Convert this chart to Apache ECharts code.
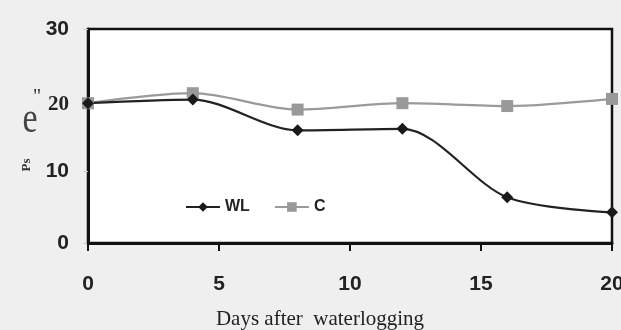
<!DOCTYPE html>
<html>
<head>
<meta charset="utf-8">
<script src="https://cdn.jsdelivr.net/npm/echarts@6/dist/echarts.min.js"></script>
<style>
html,body{margin:0;padding:0;background:#efefef;}
#chart{width:621px;height:330px;}
</style>
</head>
<body>
<div id="chart"></div>
<script>
// Days after waterlogging at which Ps was measured
const days = [0, 4, 8, 12, 16, 20];
// Waterlogged plants
const wlValues = [19.6, 20.1, 15.8, 16.0, 6.4, 4.3];
// Control plants
const cValues = [19.6, 21.0, 18.7, 19.6, 19.2, 20.2];
const xTicks = [0, 5, 10, 15, 20];
const yTicks = [0, 10, 20, 30];

const pairs = (xs, ys) => xs.map((x, i) => [x, ys[i]]);

const chart = echarts.init(document.getElementById('chart'), null, {renderer: 'canvas'});
chart.setOption({
  backgroundColor: '#efefef',
  animation: false,
  grid: {
    left: 88, right: 9, top: 29, bottom: 87,
    containLabel: false, outerBoundsMode: 'none',
    show: true, backgroundColor: '#ffffff',
    borderColor: '#111', borderWidth: 2.5
  },
  legend: {
    left: 180, top: 194,
    itemWidth: 34, itemHeight: 12, itemGap: 24,
    textStyle: {fontFamily: 'Liberation Sans Narrow, Liberation Sans', fontWeight: 'bold', fontSize: 16, color: '#222'},
    data: ['WL', 'C']
  },
  xAxis: {
    type: 'value', min: xTicks[0], max: xTicks[xTicks.length - 1], interval: 5,
    name: 'Days after  waterlogging', nameLocation: 'middle', nameGap: 66,
    nameTextStyle: {fontFamily: 'Liberation Serif', fontSize: 21, color: '#222', padding: [0, 60, 0, 0]},
    axisLine: {lineStyle: {color: '#111', width: 3}},
    axisTick: {show: true, inside: false, length: 8, lineStyle: {color: '#111', width: 2}},
    axisLabel: {margin: 31, fontFamily: 'Liberation Sans Narrow, Liberation Sans', fontWeight: 'bold', fontSize: 21, color: '#222'},
    splitLine: {show: false}
  },
  yAxis: {
    type: 'value', min: yTicks[0], max: yTicks[yTicks.length - 1], interval: 10,
    axisLine: {show: true, lineStyle: {color: '#111', width: 3}},
    axisTick: {show: true, inside: false, length: 5, lineStyle: {color: '#ccc', width: 1}},
    axisLabel: {
      margin: 19, fontFamily: 'Liberation Sans Narrow, Liberation Sans', fontWeight: 'bold', fontSize: 21, color: '#222',
      formatter: v => v === 20 ? '{s|' + v + '}' : String(v),
      rich: {s: {fontFamily: 'Liberation Serif', fontWeight: 'bold', fontSize: 21, color: '#222', padding: [8, 0, 0, 0]}}
    },
    splitLine: {show: false}
  },
  graphic: [
    {type: 'text', x: 27, y: 165, rotation: Math.PI / 2, style: {text: 'Ps', font: 'bold 13px "Liberation Serif"', fill: '#333', align: 'center', verticalAlign: 'middle'}},
    {type: 'text', x: 30, y: 120, style: {text: 'e', font: '34px "Liberation Serif"', fill: '#444', align: 'center', verticalAlign: 'middle'}, scaleY: 1.3},
    {type: 'text', x: 37, y: 98, style: {text: '"', font: '20px "Liberation Serif"', fill: '#333', align: 'center', verticalAlign: 'middle'}}
  ],
  series: [
    {
      name: 'C', type: 'line', smooth: 0.3,
      data: pairs(days, cValues),
      symbol: 'rect', symbolSize: 12,
      lineStyle: {color: '#9a9a9a', width: 2.2},
      itemStyle: {color: '#999999'}
    },
    {
      name: 'WL', type: 'line', smooth: 0.3,
      data: pairs(days, wlValues),
      symbol: 'diamond', symbolSize: 12,
      lineStyle: {color: '#222', width: 2.2},
      itemStyle: {color: '#1a1a1a'}
    }
  ]
});
</script>
</body>
</html>
